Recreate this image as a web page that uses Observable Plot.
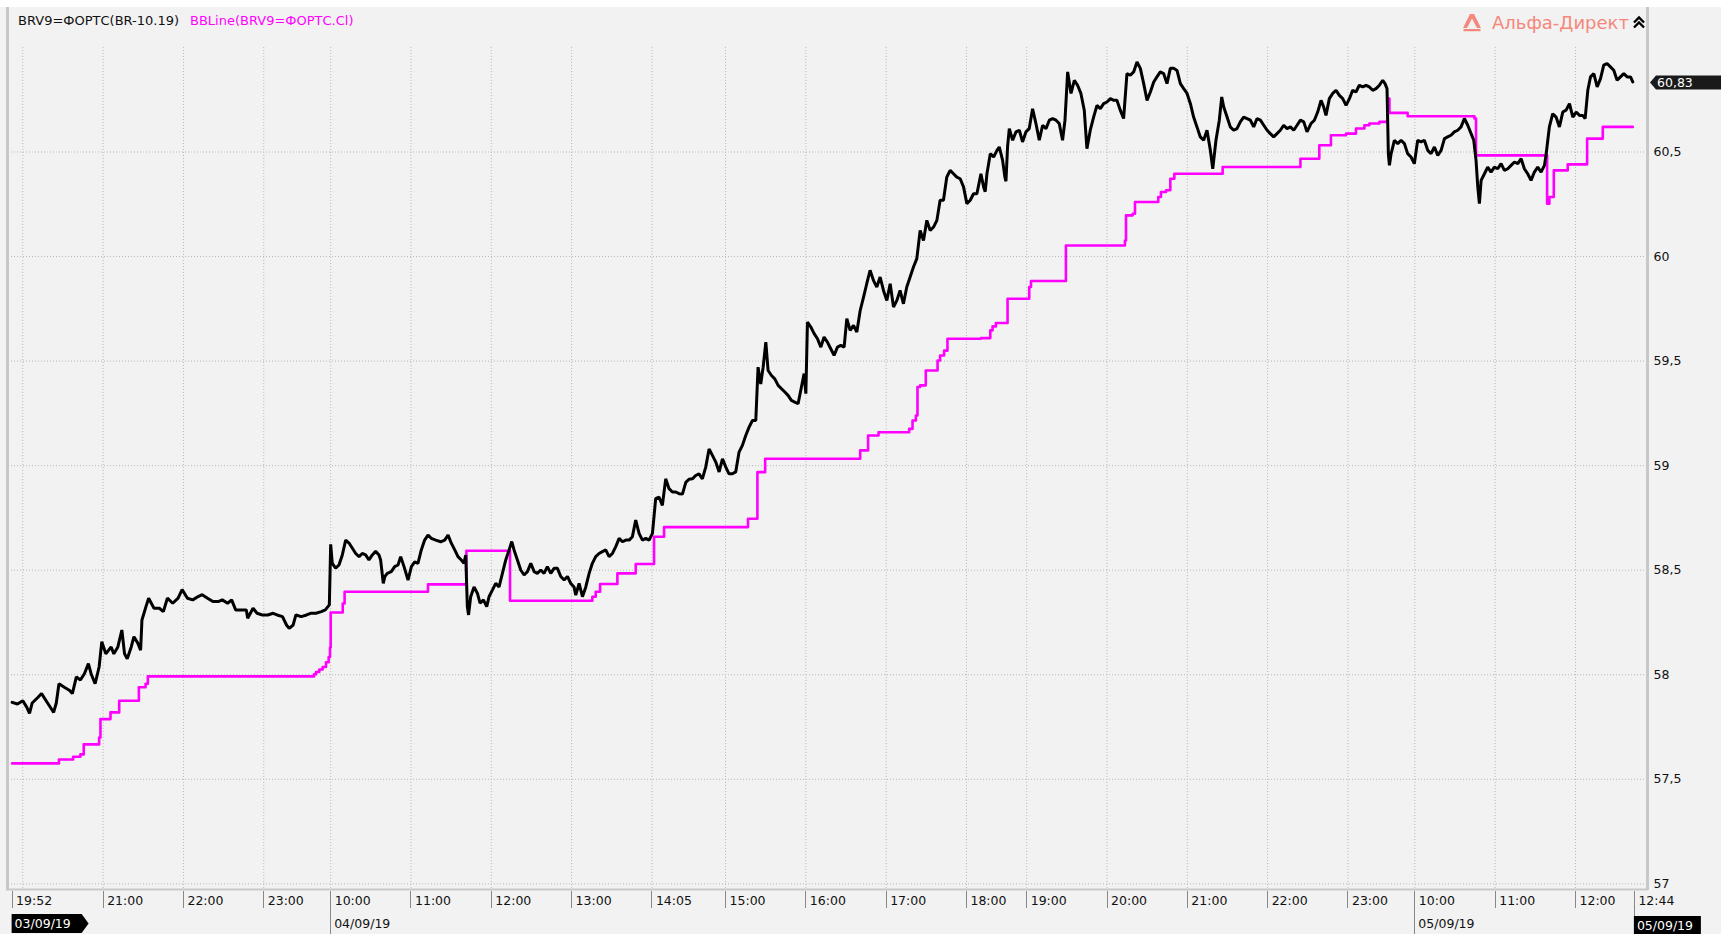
<!DOCTYPE html>
<html><head><meta charset="utf-8">
<script src="https://cdn.jsdelivr.net/npm/d3@7"></script>
<script src="https://cdn.jsdelivr.net/npm/@observablehq/plot@0.6"></script>
<style>
html,body{margin:0;padding:0;background:#fff;}
#wrap{position:relative;width:1721px;height:934px;overflow:hidden;}
svg text{font-family:"DejaVu Sans",sans-serif;}
</style></head><body><div id="wrap"></div>
<script>
// ---- data: trading-minute index (breaks removed) and price ----
const priceIdx = [0,4,8,11,13,15,19,22,26,30,31,33,35,39,43,45,48,51,54,57,59,62,65,67,70,74,76,79,82,84,86,89,91,94,96,97,100,102,106,110,113,116,120,124,127,131,135,139,142,146,150,154,157,161,164,167,171,175,176,180,183,187,191,195,198,202,205,207,210,212,216,220,223,227,231,234,237,
238,239.2,241.7,244.2,246.7,249.2,251.7,254.2,256.7,259.2,261.6,264.1,266.6,269.1,271.6,274.1,275.3,277.3,278.5,280.3,283.3,285.8,288.3,290.3,292.8,295.8,298.3,300.8,303.2,305.7,308.2,310.7,313.2,316.5,320.2,323.2,325.7,328.2,330.7,333.1,335.6,337.6,338.9,340.1,341,342.6,345.1,347.6,349.6,352.1,354.6,356.3,358.8,361.3,363.8,366.3,368.8,371.3,373.3,375,377.5,380,382.5,385,387.5,390,392.4,394.9,397.4,399.9,402.4,404.9,407.4,409.9,412.4,414.9,417.3,419.8,421.1,423.6,426.1,428.6,431.1,433.5,436,438.5,441,443.5,446,448.5,451,453.5,456,458.5,461,463.4,465.9,468.4,470.9,473.4,475.9,478.4,
480.8,483.3,485.8,488.3,490.8,493.3,495.8,498.3,500.8,503.3,505.7,508.2,510.7,513.2,515.7,518.2,520.7,523.2,525.7,528.2,530.7,533.2,535.6,538.1,540.6,543.1,545.6,548.1,550.6,553.1,555.6,557.3,559.3,561.1,563.1,564.8,567.3,569.8,572.3,574.8,577.3,579.7,582.2,584.7,587.2,589.7,591.7,593,594.2,596.7,599.2,601.7,604.2,606.6,609.1,611.6,614.1,616.6,619.1,621.6,623.6,626.1,628.6,631.1,633.6,636.1,638.5,641,643.5,646,648.5,651,653.5,656,658.5,661,663.4,665.9,668.4,670.9,673.4,675.9,678.4,680.9,683.4,685.9,688.4,690.9,693.3,695.8,698.3,700.8,703.3,705.8,708.3,710.8,713.3,715.8,718.3,720.8,
723.8,725.8,727,728.3,730.8,733.3,735.8,737.5,740,741.7,742.5,743.7,745,747.5,750,752.5,754.9,757.4,759.9,762.4,764.9,767.4,769.9,772.4,774.9,777.4,779.9,782.3,784.8,786.6,788.6,791.1,793.6,796,798.5,801,803,805.5,808,810.5,813,815.5,818,820.5,823,825.4,827.9,830.4,832.9,835.4,837.9,840.4,842.9,845.4,847.9,850.4,852.9,855.3,857.8,860.3,862.8,865.3,867.8,870.3,872.8,875.3,877.8,880.3,882.7,885.2,887.7,890.2,892.7,895.2,897,899.4,901.9,903.7,905.2,907.7,910.1,912.6,915.1,917.6,920.1,922.6,925.1,927.6,930.1,932.6,935.1,937.6,940,942.5,945,947.5,950,952.5,955,957.5,960,962.5,965,967.4,
970.4,972.9,975.4,977.9,979.9,981.6,984.1,986.6,989.1,991.6,994.1,996.6,999.1,1001.5,1004,1006.5,1009,1011.5,1014,1016.5,1019,1021.5,1024,1025.7,1027.2,1028.2,1029,1030.2,1032.7,1035.2,1037.7,1040.2,1042.6,1045.1,1047.6,1050.1,1052.6,1055.1,1057.6,1060.1,1062.6,1065.1,1067.6,1070.1,1072.5,1075,1077.5,1080,1082.5,1085,1087.5,1090,1092,1093.7,1095,1096.2,1097.5,1100,1102.4,1104.9,1107.4,1109.9,1112.4,1114.9,1117.4,1119.9,1122.4,1124.9,1127.4,1129.8,1132.3,1134.8,1137.3,1139.8,1142.3,1144.8,1146,1147.3,1148.5,1151,1153.5,1156,1158.5,1161,1163.5,1166,1168.5,1171,1173.4,1175.2,1177.2,1179.2,1181.7,1184.2,1186.7,1189.1,1191.6,1194.1,1196.6,1199.1,1201.6,1204.1,1206.6,1209.1,1210.8];
const priceVal = [57.868,57.86,57.876,57.844,57.815,57.865,57.89,57.91,57.87,57.83,57.82,57.865,57.957,57.94,57.925,57.91,57.99,57.975,58.005,58.053,58.005,57.957,58.037,58.158,58.1,58.133,58.1,58.133,58.214,58.1,58.077,58.133,58.182,58.15,58.117,58.262,58.326,58.366,58.318,58.318,58.302,58.366,58.342,58.366,58.407,58.366,58.358,58.374,58.383,58.366,58.35,58.35,58.358,58.342,58.358,58.31,58.31,58.31,58.27,58.318,58.294,58.286,58.286,58.294,58.286,58.278,58.238,58.222,58.238,58.286,58.278,58.286,58.294,58.294,58.302,58.31,58.334,
58.624,58.533,58.51,58.525,58.573,58.644,58.63,58.605,58.58,58.565,58.58,58.573,58.549,58.573,58.59,58.573,58.549,58.437,58.47,58.485,58.493,58.517,58.525,58.565,58.517,58.453,58.517,58.54,58.533,58.597,58.644,58.668,58.652,58.644,58.636,58.644,58.668,58.628,58.597,58.565,58.549,58.533,58.573,58.326,58.286,58.373,58.42,58.39,58.342,58.358,58.326,58.373,58.405,58.437,58.42,58.485,58.549,58.597,58.637,58.597,58.549,58.501,58.477,58.493,58.533,58.493,58.485,58.501,58.485,58.517,58.485,58.509,58.509,58.47,58.453,58.47,58.437,58.42,58.381,58.437,58.373,58.42,58.485,58.533,58.565,58.58,58.589,58.597,58.565,58.58,58.613,58.652,58.636,58.644,58.644,58.66,58.74,58.676,58.644,58.652,58.644,58.676,
58.842,58.85,58.81,58.937,58.89,58.874,58.874,58.866,58.864,58.92,58.935,58.937,58.953,58.961,58.937,58.993,59.08,59.049,59.017,58.97,59.033,58.993,58.961,58.961,58.97,59.065,59.097,59.144,59.184,59.216,59.216,59.471,59.39,59.471,59.591,59.455,59.431,59.415,59.384,59.368,59.352,59.336,59.312,59.304,59.296,59.376,59.44,59.344,59.687,59.663,59.631,59.607,59.567,59.615,59.591,59.559,59.527,59.567,59.575,59.567,59.703,59.647,59.671,59.639,59.742,59.806,59.87,59.934,59.886,59.854,59.902,59.838,59.79,59.87,59.758,59.79,59.838,59.774,59.854,59.902,59.95,59.99,60.125,60.077,60.173,60.125,60.141,60.173,60.269,60.269,60.38,60.412,60.396,60.38,60.372,60.333,60.253,60.269,60.3,60.3,
60.396,60.333,60.31,60.396,60.492,60.476,60.508,60.524,60.46,60.38,60.36,60.524,60.612,60.556,60.596,60.604,60.548,60.596,60.612,60.707,60.636,60.556,60.628,60.612,60.652,60.66,60.652,60.636,60.556,60.652,60.883,60.78,60.843,60.819,60.78,60.7,60.516,60.604,60.667,60.723,60.707,60.731,60.739,60.755,60.747,60.747,60.7,60.66,60.875,60.867,60.883,60.93,60.9,60.827,60.747,60.787,60.835,60.859,60.883,60.875,60.827,60.9,60.9,60.89,60.827,60.803,60.78,60.731,60.667,60.62,60.572,60.556,60.604,60.508,60.42,60.556,60.652,60.763,60.715,60.667,60.62,60.604,60.612,60.644,60.667,60.66,60.652,60.62,60.66,60.652,60.628,60.604,60.588,60.572,60.588,60.604,60.628,60.612,60.62,60.604,60.628,60.652,60.644,60.596,
60.636,60.652,60.691,60.747,60.715,60.675,60.755,60.78,60.795,60.771,60.755,60.723,60.755,60.795,60.787,60.819,60.811,60.819,60.811,60.795,60.803,60.819,60.843,60.827,60.803,60.49,60.436,60.49,60.556,60.54,60.556,60.54,60.492,60.476,60.444,60.556,60.548,60.556,60.508,60.492,60.524,60.484,60.508,60.564,60.572,60.58,60.596,60.604,60.62,60.66,60.628,60.588,60.556,60.46,60.333,60.253,60.364,60.396,60.428,60.404,60.428,60.42,60.444,60.412,60.42,60.436,60.452,60.444,60.468,60.42,60.396,60.364,60.404,60.428,60.404,60.436,60.484,60.556,60.62,60.683,60.667,60.62,60.691,60.7,60.731,60.667,60.691,60.675,60.675,60.66,60.795,60.859,60.875,60.811,60.851,60.915,60.923,60.907,60.891,60.843,60.859,60.875,60.859,60.859,60.835];

const bbIdx = [0,35,45.6,51,53.5,65,66,73.5,80,94.7,99.7,101.4,225.5,227,229.5,232,234.5,236.5,237.5,238,247,248.4,310.7,339.4,372,433.5,436,439.3,452.2,465.9,479.6,487.1,549.8,556.8,562.6,633.6,639.5,647.3,670.2,672.7,675.2,676.4,678.4,682.6,691.4,693.3,696.3,698.8,723.8,730.8,732.5,735,743.7,759.9,761.2,787.3,831.4,832.2,837.2,838.9,856.3,858.3,862.1,865.3,868.3,904.4,962.5,976.6,985.3,996.6,1004,1010.3,1014,1021.5,1027.7,1029,1042.6,1092.5,1093.7,1146.8,1148.5,1151.8,1162.2,1176.7,1188.4,1210.8];
const bbVal = [57.576,57.595,57.608,57.619,57.667,57.70,57.788,57.82,57.876,57.94,57.957,57.992,58.002,58.013,58.025,58.037,58.06,58.085,58.13,58.298,58.341,58.397,58.432,58.593,58.354,58.373,58.397,58.434,58.485,58.53,58.66,58.706,58.746,58.969,59.033,59.073,59.144,59.16,59.176,59.216,59.24,59.376,59.384,59.455,59.503,59.527,59.55,59.607,59.61,59.647,59.666,59.682,59.798,59.854,59.883,60.053,60.077,60.197,60.205,60.261,60.285,60.309,60.317,60.372,60.396,60.428,60.468,60.532,60.58,60.588,60.612,60.628,60.636,60.644,60.755,60.687,60.671,60.66,60.484,60.253,60.285,60.412,60.441,60.564,60.62,60.62];

const yTicks = [57,57.5,58,58.5,59,59.5,60,60.5];
const xTickIdx = [0,68,128,188,238,298,358,418,478,533,593,653,713,758,818,878,938,998,1048,1108,1168,1212];
const xTickLabels = ["19:52","21:00","22:00","23:00","10:00","11:00","12:00","13:00","14:05","15:00","16:00","17:00","18:00","19:00","20:00","21:00","22:00","23:00","10:00","11:00","12:00","12:44"];
const xGridIdx = [8,68,128,188,238,298,358,418,478,533,593,653,713,758,818,878,938,998,1048,1108,1168];
const sessionIdx = [238,1048];
const sessionDates = ["04/09/19","05/09/19"];
const firstDate = "03/09/19";
const lastDate = "05/09/19";
const lastPrice = 60.83;
const seriesNames = ["BRV9=ФОРТС(BR-10.19)","BBLine(BRV9=ФОРТС.Cl)"];
const brand = "Альфа-Директ";

const price = priceIdx.map((x,k)=>({x, y: priceVal[k]}));
const bb = bbIdx.map((x,k)=>({x, y: bbVal[k]}));
const fmt = v => String(v).replace(".", ",");

const xDomain = [-2.7, 1221.8];
const yDomain = [56.973, 61.191];
const W = 1721, H = 934, mT = 7, mB = 45, mL = 8, mR = 74;
const grid = "#b8b8b8";

const chart = Plot.plot({
  width: W, height: H,
  marginTop: mT, marginBottom: mB, marginLeft: mL, marginRight: mR,
  x: {domain: xDomain, axis: null},
  y: {domain: yDomain, axis: null},
  style: {background: "#f2f2f2", fontFamily: "DejaVu Sans", fontSize: "12.5px", color: "#000", overflow: "visible"},
  marks: [
    Plot.ruleY(yTicks, {stroke: grid, strokeDasharray: "1,2", strokeWidth: 1}),
    Plot.ruleX(xGridIdx, {y1: 61, y2: yDomain[0], stroke: grid, strokeDasharray: "1,2", strokeWidth: 1}),
    Plot.line(bb, {x: "x", y: "y", stroke: "#ff00ff", strokeWidth: 2.6, curve: "step-after"}),
    Plot.line(price, {x: "x", y: "y", stroke: "#000", strokeWidth: 3, strokeLinejoin: "miter"}),
    Plot.text(yTicks, {x: xDomain[1], y: d => d, text: d => fmt(d), textAnchor: "start", dx: 6, fill: "#111", fontSize: 12.5}),
    Plot.text(xTickIdx, {x: d => d, text: (d, i) => xTickLabels[i], frameAnchor: "bottom", textAnchor: "start", dx: 4, dy: 15.5, fill: "#111", fontSize: 12.5})
  ]
});
document.getElementById("wrap").appendChild(chart);

const xs = chart.scale("x"), ys = chart.scale("y");
const svg = d3.select(chart);
const bottom = H - mB, right = W - mR;
const g = svg.append("g").attr("text-anchor", "start").attr("font-family", "DejaVu Sans, sans-serif");

// white strip at top and border lines
g.append("rect").attr("x", 0).attr("y", 0).attr("width", W).attr("height", mT).attr("fill", "#fff");
g.append("line").attr("x1", mL - 0.5).attr("x2", mL - 0.5).attr("y1", mT).attr("y2", bottom).attr("stroke", "#c8c8c8").attr("stroke-width", 3);
g.append("line").attr("x1", mL - 2).attr("x2", right + 1).attr("y1", bottom + 0.5).attr("y2", bottom + 0.5).attr("stroke", "#c8c8c8").attr("stroke-width", 2);
g.append("line").attr("x1", right + 0.5).attr("x2", right + 0.5).attr("y1", mT).attr("y2", bottom + 1).attr("stroke", "#c8c8c8").attr("stroke-width", 3);

// x ticks
xTickIdx.forEach((d, i) => {
  const long = sessionIdx.includes(d) || i === xTickIdx.length - 1;
  const x = Math.round(xs.apply(d)) + 0.5;
  g.append("line").attr("x1", x).attr("x2", x).attr("y1", bottom + 2).attr("y2", long ? H : bottom + 19)
    .attr("stroke", "#888").attr("stroke-width", 1);
});
// session date labels
sessionIdx.forEach((d, i) => {
  g.append("text").attr("x", xs.apply(d) + 4).attr("y", 928).attr("font-size", 12.5).attr("fill", "#111").text(sessionDates[i]);
});
// first date box (arrow to the right)
{
  const x0 = xs.apply(xTickIdx[0]);
  g.append("path").attr("d", `M${x0},914 L${x0 + 70},914 L${x0 + 77},923.5 L${x0 + 70},933 L${x0},933 Z`).attr("fill", "#000");
  g.append("text").attr("x", x0 + 3).attr("y", 928).attr("font-size", 12.5).attr("fill", "#fff").text(firstDate);
}
// last date box
{
  const x1 = xs.apply(xTickIdx[xTickIdx.length - 1]);
  g.append("rect").attr("x", x1).attr("y", 916).attr("width", 67).attr("height", 18).attr("fill", "#000");
  g.append("text").attr("x", x1 + 3).attr("y", 929.5).attr("font-size", 12.5).attr("fill", "#fff").text(lastDate);
}
// current price tag
{
  const y = ys.apply(lastPrice);
  g.append("path").attr("d", `M${right + 3},${y} L${right + 9},${y - 7} L${W},${y - 7} L${W},${y + 7} L${right + 9},${y + 7} Z`).attr("fill", "#1a1a1a");
  g.append("text").attr("x", right + 10).attr("y", y + 4.5).attr("font-size", 12.5).attr("fill", "#fff").text(fmt(lastPrice));
}
// legend
g.append("text").attr("x", 18).attr("y", 25).attr("font-size", 13).attr("fill", "#111").text(seriesNames[0]);
g.append("text").attr("x", 190).attr("y", 25).attr("font-size", 13).attr("fill", "#ff00ff").text(seriesNames[1]);
// brand
g.append("path").attr("d", "M1463,28 L1470,14 L1474,14 L1481,28 L1477,28 L1472,18.5 L1467,28 Z").attr("fill", "#f5877b");
g.append("rect").attr("x", 1463.5).attr("y", 29).attr("width", 17).attr("height", 2.2).attr("fill", "#f5877b");
g.append("text").attr("x", 1492).attr("y", 29).attr("font-size", 18).attr("font-family", "Liberation Sans, Arial, sans-serif").attr("fill", "#f5877b").text(brand);
g.append("path").attr("d", "M1634,22.5 L1639,17.5 L1644,22.5 M1634,27.5 L1639,22.5 L1644,27.5").attr("fill", "none").attr("stroke", "#000").attr("stroke-width", 2.4);
</script></body></html>
